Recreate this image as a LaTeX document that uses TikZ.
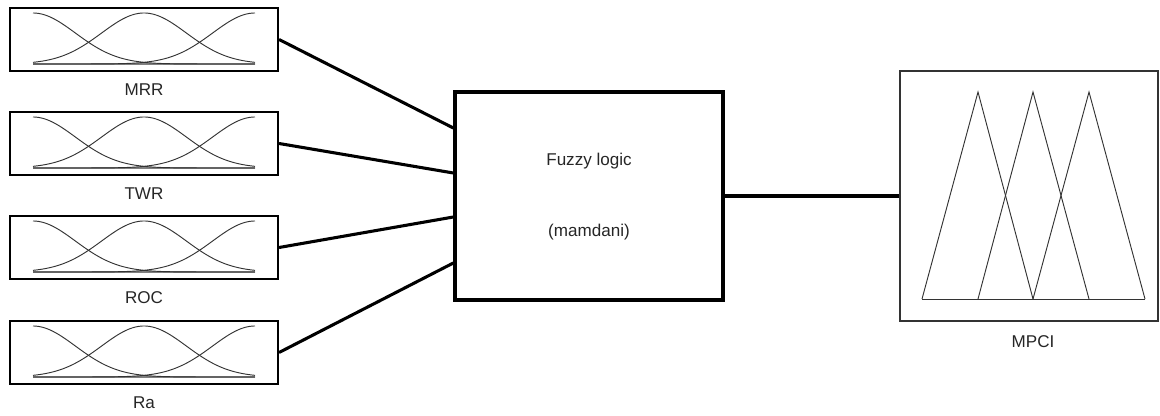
\documentclass[tikz,border=0pt]{standalone}
\usepackage{fontspec}
\setmainfont{Liberation Sans}
\usetikzlibrary{calc}
\begin{document}
\begin{tikzpicture}[x=0.75pt,y=-0.75pt,
  inbox/.style={draw=black, line width=1.6pt, minimum width=201pt, minimum height=47.25pt, inner sep=0pt},
  fuzzybox/.style={draw=black, line width=2.5pt, minimum width=201pt, minimum height=156pt, inner sep=0pt},
  outbox/.style={draw=black!80, line width=0.8pt, minimum width=193.5pt, minimum height=187.5pt, inner sep=0pt},
  conn/.style={line width=2.3pt, black},
  mf/.style={line width=0.7pt, black!80},
  mfbase/.style={line width=1.1pt, black!50},
  lbl/.style={font=\fontsize{12.8}{15}\selectfont, text=black!85, inner sep=0pt}]
\useasboundingbox (0,0) rectangle (1160,416);

% input variables with three Gaussian membership functions each
\foreach \i/\cy/\name in {1/39.5/MRR, 2/143.5/TWR, 3/247.5/ROC, 4/352.5/Ra}{
  \node[inbox] (b\i) at (144,\cy) {};
  \node[lbl] (l\i) at (144,\cy+50.5) {\name};
  \begin{scope}[shift={(b\i.center)}]
    \draw[mfbase] (-111,24.5) -- (111,24.5);
    \foreach \c in {-111,0,111}{
      \draw[mf] plot[domain=-111:111, samples=90, smooth]
        ({\x},{24.5-51*exp(-((\x-\c)/60)*((\x-\c)/60))});
    }
  \end{scope}
}

% inference block
\node[fuzzybox] (fz) at (589,196) {};
\node[lbl] (fz1) at (589,161) {Fuzzy logic};
\node[lbl] (fz2) at (589,232) {(mamdani)};

% output variable with triangular membership functions
\node[outbox] (out) at (1029,196) {};
\node[lbl] (lout) at (1033,342) {MPCI};
\draw[mf, line join=miter] (922,299) -- (978,92) -- (1033,299);
\draw[mf, line join=miter] (978,299) -- (1033,92) -- (1089,299);
\draw[mf, line join=miter] (1033,299) -- (1089,92) -- (1145,299);
\draw[mf] (922,299) -- (1145,299);

% connections
\draw[conn] (b1.east) -- ($(fz.west)+(0,-68)$);
\draw[conn] (b2.east) -- ($(fz.west)+(0,-23)$);
\draw[conn] (b3.east) -- ($(fz.west)+(0,21)$);
\draw[conn] (b4.east) -- ($(fz.west)+(0,67)$);
\draw[conn] (fz.east) -- (out.west);
\end{tikzpicture}
\end{document}
